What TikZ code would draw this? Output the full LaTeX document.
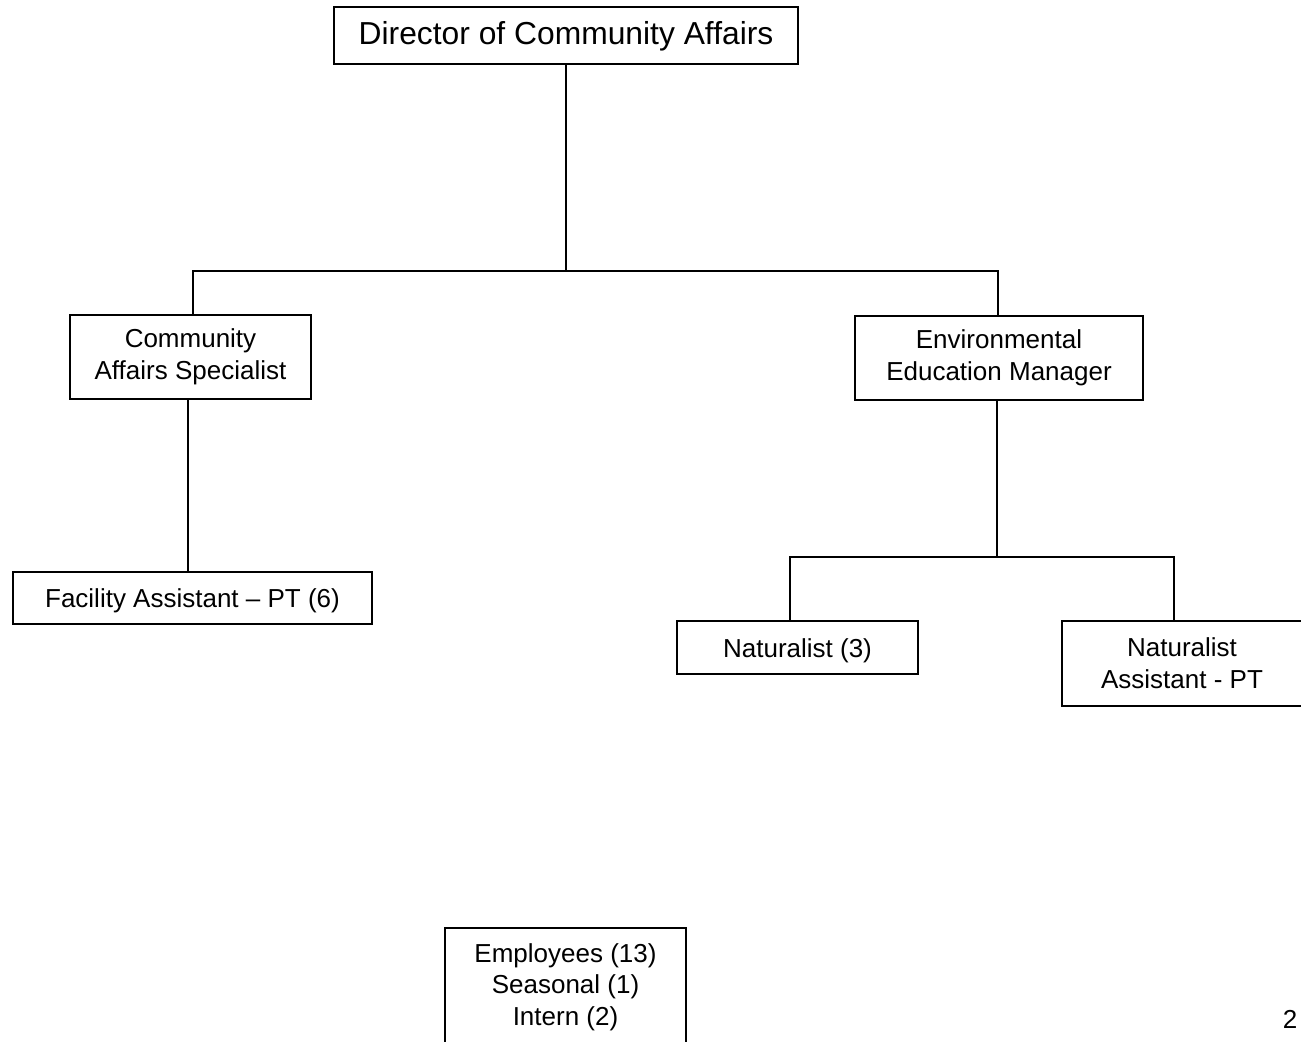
\documentclass[tikz,border=0pt]{standalone}
\usepackage{fontspec}
\setmainfont{Liberation Sans}
\usepackage{tikz}
\newcommand{\pxl}{0.02cm}
\tikzset{
  post/.style={draw, line width=1.1pt, align=center, inner sep=0pt,
    font=\fontsize{14.8}{18}\selectfont, execute at begin node={\rule{0pt}{14.2pt}}},
  link/.style={line width=1.1pt},
}

\begin{document}
\begin{tikzpicture}[x=0.02cm,y=-0.02cm]
  \useasboundingbox (0,0) rectangle (1301,1041);
  \clip (0,0) rectangle (1301,1041);
  \node[post, minimum width=464*\pxl, minimum height=57*\pxl,
    font=\fontsize{18.1}{21.7}\selectfont] (dir) at (566,35.5) {Director of Community Affairs};
  \node[post, minimum width=241*\pxl, minimum height=84*\pxl] (cas) at (190.5,357) {Community\\Affairs Specialist};
  \node[post, minimum width=288*\pxl, minimum height=84*\pxl] (eem) at (999,358) {Environmental\\Education Manager};
  \node[post, minimum width=359*\pxl, minimum height=52*\pxl] (fac) at (192.5,598) {Facility Assistant -- PT (6)};
  \node[post, minimum width=241*\pxl, minimum height=53*\pxl] (nat) at (797.5,647.5) {Naturalist (3)};
  \node[post, minimum width=240*\pxl, minimum height=85*\pxl] (nas) at (1182,663.5) {Naturalist\\Assistant - PT};
  \node[post, minimum width=241*\pxl, minimum height=118*\pxl] (emp) at (565.5,987) {Employees (13)\\Seasonal (1)\\Intern (2)};
  \node[font=\fontsize{14.8}{18}\selectfont] (page) at (1290,1019) {2};
  \coordinate (fork1) at (dir.south |- 0,271);
  \coordinate (fork2) at ([xshift=-2*\pxl]eem.south |- 0,557);
  \draw[link] (dir.south) -- (fork1);
  \draw[link] ([xshift=2.5*\pxl]cas.north) |- (fork1) -| ([xshift=-1*\pxl]eem.north);
  \draw[link] ([xshift=-2.5*\pxl]cas.south) -- ([xshift=-2.5*\pxl]cas.south |- fac.north);
  \draw[link] ([xshift=-2*\pxl]eem.south) -- (fork2);
  \draw[link] ([xshift=-7.5*\pxl]nat.north) |- (fork2) -| ([xshift=-8*\pxl]nas.north);
\end{tikzpicture}
\end{document}
